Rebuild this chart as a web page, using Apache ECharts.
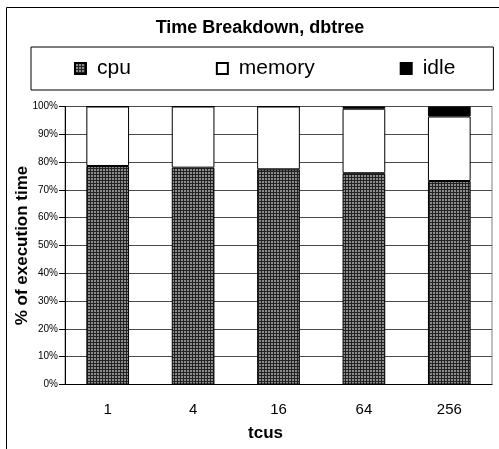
<!DOCTYPE html>
<html>
<head>
<meta charset="utf-8">
<script src="https://cdn.jsdelivr.net/npm/echarts@6/dist/echarts.min.js"></script>
<style>html,body{margin:0;padding:0;background:#fff}#c{width:499px;height:449px}</style>
</head>
<body>
<div id="c"></div>
<script>
var categories = ['1', '4', '16', '64', '256'];
var cpu = [78.6, 78.0, 77.4, 76.0, 73.2];
var memory = [21.4, 22.0, 22.6, 23.2, 23.2];
var idle = [0, 0, 0, 0.8, 3.6];
var yTicks = [0, 10, 20, 30, 40, 50, 60, 70, 80, 90, 100];

var pc = document.createElement('canvas');
pc.width = 3; pc.height = 3;
var g = pc.getContext('2d');
g.fillStyle = '#8c8c8c'; g.fillRect(0, 0, 3, 3);
g.fillStyle = '#222';
g.fillRect(0, 0, 3, 1);
g.fillRect(0, 0, 1, 3);
var cpuPattern = {image: pc, repeat: 'repeat'};

var FONT = 'Liberation Sans, Arial, sans-serif';
var chart = echarts.init(document.getElementById('c'), null, {renderer: 'canvas'});
chart.setOption({
  backgroundColor: '#fff',
  animation: false,
  title: {
    text: 'Time Breakdown, dbtree',
    left: 255, top: 14, textAlign: 'center',
    textStyle: {fontFamily: FONT, fontSize: 18, fontWeight: 'bold', color: '#000'}
  },
  legend: {
    left: 31, top: 47,
    padding: [11, 38, 11, 43],
    itemGap: 85,
    itemWidth: 11, itemHeight: 11,
    icon: 'rect',
    borderColor: '#000', borderWidth: 1,
    textStyle: {fontFamily: FONT, fontSize: 21, color: '#000', padding: [2, 0, 0, 6]},
    data: ['cpu', 'memory', 'idle']
  },
  graphic: [{
    type: 'rect', silent: true,
    shape: {x: 6.5, y: 7.5, width: 600, height: 600},
    style: {fill: null, stroke: '#000', lineWidth: 1}
  }],
  grid: {
    left: 65, right: 7, top: 106.5, bottom: 64.5,
    outerBoundsMode: 'none', containLabel: false,
    show: true, borderColor: '#808080', borderWidth: 1
  },
  xAxis: {
    type: 'category', data: categories,
    name: 'tcus', nameLocation: 'middle', nameGap: 40,
    nameTextStyle: {fontFamily: FONT, fontSize: 17, fontWeight: 'bold', color: '#000', padding: [0, 26, 0, 0]},
    axisLine: {lineStyle: {color: '#000', width: 1}},
    axisTick: {show: false},
    axisLabel: {fontFamily: FONT, fontSize: 15, color: '#000', margin: 18}
  },
  yAxis: {
    type: 'value', min: yTicks[0], max: yTicks[yTicks.length - 1], interval: 10,
    name: '% of execution time', nameLocation: 'middle', nameGap: 34,
    nameMoveOverlap: false,
    nameTextStyle: {fontFamily: FONT, fontSize: 17, fontWeight: 'bold', color: '#000'},
    axisLine: {show: true, lineStyle: {color: '#000', width: 1}},
    axisTick: {show: true, length: 6, lineStyle: {color: '#000'}},
    axisLabel: {formatter: '{value}%', fontFamily: FONT, fontSize: 10, color: '#000', margin: 7},
    splitLine: {show: true, lineStyle: {color: '#4a4a4a', width: 1}}
  },
  series: [
    {name: 'cpu', type: 'bar', stack: 't', barWidth: '50%', data: cpu,
     itemStyle: {color: cpuPattern, borderColor: '#000', borderWidth: 1}},
    {name: 'memory', type: 'bar', stack: 't', barWidth: '50%', data: memory,
     itemStyle: {color: '#fff', borderColor: '#000', borderWidth: 1}},
    {name: 'idle', type: 'bar', stack: 't', barWidth: '50%', data: idle,
     itemStyle: {color: '#000', borderColor: '#000', borderWidth: 1}}
  ]
});
</script>
</body>
</html>
